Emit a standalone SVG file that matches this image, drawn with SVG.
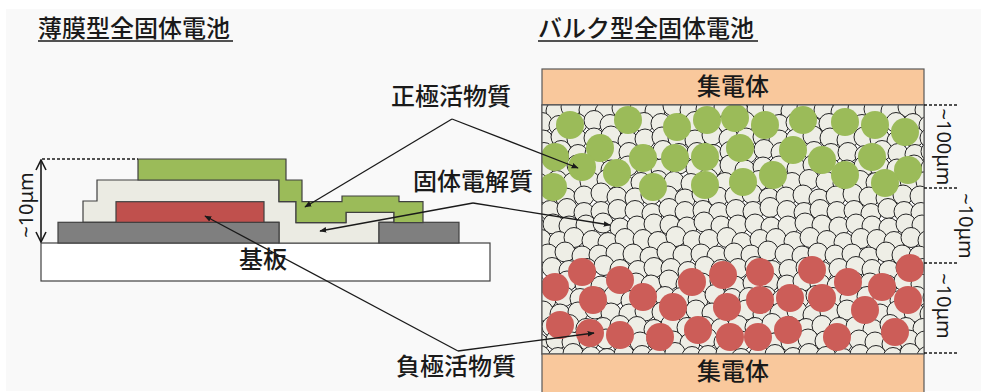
<svg xmlns="http://www.w3.org/2000/svg" xmlns:xlink="http://www.w3.org/1999/xlink" width="981" height="392" viewBox="0 0 981 392">
  <style>
    .jp { font-family: "Noto Sans CJK JP", "Noto Sans CJK SC", sans-serif; font-size: 24px; font-weight: 500; fill: #1a1a1a; }
    .dim { font-family: "Noto Sans", "DejaVu Sans", sans-serif; font-size: 20px; fill: #1a1a1a; }
    .edge { stroke: #404040; stroke-width: 1.2; }
    .sub { fill: #ffffff; }
    .elec { fill: #ebebe3; }
    .metal { fill: #7f7f7f; }
    .neg { fill: #c0504d; }
    .pos { fill: #9bbb59; }
    .cc { fill: #f9c89c; stroke: #595959; stroke-width: 1.2; }
    .p circle { fill: #eeeee6; stroke: #262626; stroke-width: 1; }
    .gp { fill: #9bbb59; }
    .rp { fill: #cc5d58; }
    .dash { stroke: #1a1a1a; stroke-width: 1.5; stroke-dasharray: 3 2; fill: none; }
    .lead { stroke: #1a1a1a; stroke-width: 1.3; fill: none; marker-end: url(#tip); }
  </style>
  <defs>
    <marker id="tip" viewBox="0 0 10 10" refX="9" refY="5" markerWidth="7" markerHeight="7" markerUnits="userSpaceOnUse" orient="auto">
      <path d="M0,1 L10,5 L0,9 Z" fill="#1a1a1a"/>
    </marker>
    <marker id="open" viewBox="0 0 12 12" refX="11" refY="6" markerWidth="12" markerHeight="12" markerUnits="userSpaceOnUse" orient="auto-start-reverse">
      <path d="M1,1 L11,6 L1,11" fill="none" stroke="#1a1a1a" stroke-width="1.6"/>
    </marker>
    <clipPath id="boxClip">
      <rect x="542" y="105" width="382" height="249"/>
    </clipPath>
    <!-- four irregular rows of electrolyte particles, reused with offsets -->
    <g id="rowA" class="p">
      <circle cx="538" cy="0" r="10"/><circle cx="556" cy="2" r="10"/><circle cx="571" cy="-2" r="10"/><circle cx="589" cy="1" r="10"/>
      <circle cx="605" cy="3" r="10"/><circle cx="622" cy="-1" r="10"/><circle cx="640" cy="0" r="10"/><circle cx="655" cy="2" r="10"/>
      <circle cx="673" cy="-3" r="10"/><circle cx="690" cy="1" r="10"/><circle cx="706" cy="0" r="10"/><circle cx="724" cy="-2" r="10"/>
      <circle cx="739" cy="3" r="10"/><circle cx="757" cy="0" r="10"/><circle cx="773" cy="-1" r="10"/><circle cx="791" cy="2" r="10"/>
      <circle cx="807" cy="-2" r="10"/><circle cx="824" cy="1" r="10"/><circle cx="841" cy="3" r="10"/><circle cx="858" cy="-1" r="10"/>
      <circle cx="874" cy="0" r="10"/><circle cx="891" cy="2" r="10"/><circle cx="908" cy="-2" r="10"/><circle cx="925" cy="1" r="10"/>
    </g>
    <g id="rowB" class="p">
      <circle cx="545" cy="-1" r="10"/><circle cx="562" cy="2" r="10"/><circle cx="580" cy="0" r="10"/><circle cx="597" cy="-3" r="10"/>
      <circle cx="613" cy="1" r="10"/><circle cx="631" cy="2" r="10"/><circle cx="647" cy="-1" r="10"/><circle cx="664" cy="0" r="10"/>
      <circle cx="681" cy="3" r="10"/><circle cx="698" cy="-2" r="10"/><circle cx="714" cy="1" r="10"/><circle cx="731" cy="0" r="10"/>
      <circle cx="748" cy="-2" r="10"/><circle cx="765" cy="2" r="10"/><circle cx="782" cy="1" r="10"/><circle cx="799" cy="-1" r="10"/>
      <circle cx="815" cy="3" r="10"/><circle cx="832" cy="0" r="10"/><circle cx="849" cy="-2" r="10"/><circle cx="865" cy="1" r="10"/>
      <circle cx="882" cy="2" r="10"/><circle cx="899" cy="-1" r="10"/><circle cx="916" cy="0" r="10"/><circle cx="932" cy="2" r="10"/>
    </g>
    <g id="rowC" class="p">
      <circle cx="541" cy="2" r="10"/><circle cx="559" cy="-1" r="10"/><circle cx="575" cy="1" r="10"/><circle cx="592" cy="0" r="10"/>
      <circle cx="609" cy="-2" r="10"/><circle cx="626" cy="3" r="10"/><circle cx="643" cy="1" r="10"/><circle cx="660" cy="-1" r="10"/>
      <circle cx="676" cy="0" r="10"/><circle cx="693" cy="2" r="10"/><circle cx="710" cy="-3" r="10"/><circle cx="727" cy="1" r="10"/>
      <circle cx="744" cy="0" r="10"/><circle cx="761" cy="-1" r="10"/><circle cx="777" cy="2" r="10"/><circle cx="794" cy="1" r="10"/>
      <circle cx="811" cy="-2" r="10"/><circle cx="828" cy="0" r="10"/><circle cx="845" cy="2" r="10"/><circle cx="862" cy="-1" r="10"/>
      <circle cx="878" cy="1" r="10"/><circle cx="895" cy="3" r="10"/><circle cx="912" cy="-1" r="10"/><circle cx="928" cy="0" r="10"/>
    </g>
    <g id="rowD" class="p">
      <circle cx="549" cy="0" r="10"/><circle cx="566" cy="-2" r="10"/><circle cx="583" cy="2" r="10"/><circle cx="600" cy="1" r="10"/>
      <circle cx="617" cy="-1" r="10"/><circle cx="634" cy="0" r="10"/><circle cx="651" cy="3" r="10"/><circle cx="668" cy="-2" r="10"/>
      <circle cx="684" cy="1" r="10"/><circle cx="702" cy="0" r="10"/><circle cx="718" cy="2" r="10"/><circle cx="735" cy="-1" r="10"/>
      <circle cx="752" cy="1" r="10"/><circle cx="769" cy="-3" r="10"/><circle cx="786" cy="0" r="10"/><circle cx="803" cy="2" r="10"/>
      <circle cx="819" cy="-1" r="10"/><circle cx="836" cy="1" r="10"/><circle cx="853" cy="0" r="10"/><circle cx="870" cy="3" r="10"/>
      <circle cx="887" cy="-2" r="10"/><circle cx="903" cy="1" r="10"/><circle cx="920" cy="2" r="10"/><circle cx="936" cy="-1" r="10"/>
    </g>
  </defs>

  <!-- page -->
  <rect x="0" y="0" width="981" height="392" fill="#ffffff"/>
  <rect x="6" y="9" width="975" height="382" fill="#f9f9f9"/>

  <!-- ===== thin-film cell ===== -->
  <g id="title-thin">
    <text class="jp" x="38" y="37">薄膜型全固体電池</text>
    <line x1="38" y1="41" x2="233" y2="41" stroke="#1a1a1a" stroke-width="1.3"/>
  </g>
  <g id="substrate">
    <rect class="sub edge" x="41" y="243" width="449" height="38"/>
    <text class="jp" x="263" y="268" text-anchor="middle">基板</text>
  </g>
  <g id="electrolyte-film">
    <polygon class="elec edge" points="83,222.3 83,201 97,201 97,180 279,180 279,201.7 296,201.7 296,222.7 346,222.7 346,212.3 394,212.3 394,222.3 379,222.3 379,243 279,243 279,222.3"/>
  </g>
  <g id="current-collectors-film">
    <rect class="metal edge" x="58" y="222.3" width="221" height="20.7"/>
    <rect class="metal edge" x="379" y="222.3" width="80" height="20.7"/>
  </g>
  <g id="anode-film">
    <rect class="neg edge" x="116" y="201.7" width="148" height="20.6"/>
  </g>
  <g id="cathode-film">
    <polygon class="pos edge" points="138,159 286,159 286,180 302,180 302,201.7 342,201.7 342,196 399,196 399,201.7 423,201.7 423,222.7 394,222.7 394,212.3 346,212.3 346,222.7 296,222.7 296,201.7 279,201.7 279,180 138,180"/>
  </g>
  <g id="thickness-film">
    <line class="dash" x1="42" y1="159" x2="138" y2="159"/>
    <line x1="41" y1="160" x2="41" y2="242" stroke="#1a1a1a" stroke-width="1.6" marker-start="url(#open)" marker-end="url(#open)"/>
    <text class="dim" transform="translate(33,205) rotate(-90)" text-anchor="middle">~10μm</text>
  </g>

  <!-- ===== bulk cell ===== -->
  <g id="title-bulk">
    <text class="jp" x="538" y="37">バルク型全固体電池</text>
    <line x1="538" y1="41" x2="758" y2="41" stroke="#1a1a1a" stroke-width="1.3"/>
  </g>
  <g id="collector-top">
    <rect class="cc" x="542" y="69" width="382" height="36"/>
    <text class="jp" x="733" y="95" text-anchor="middle">集電体</text>
  </g>
  <g id="composite">
    <rect x="542" y="105" width="382" height="249" fill="#ffffff" stroke="#595959" stroke-width="1.2"/>
    <g clip-path="url(#boxClip)">
      <g id="electrolyte-particles">
        <use xlink:href="#rowA" x="0" y="109"/>
        <use xlink:href="#rowB" x="-3" y="123.5"/>
        <use xlink:href="#rowC" x="2" y="138"/>
        <use xlink:href="#rowD" x="-5" y="152.5"/>
        <use xlink:href="#rowA" x="6" y="167"/>
        <use xlink:href="#rowC" x="-2" y="181.5"/>
        <use xlink:href="#rowB" x="4" y="196"/>
        <use xlink:href="#rowD" x="1" y="210.5"/>
        <use xlink:href="#rowC" x="-6" y="225"/>
        <use xlink:href="#rowA" x="3" y="239.5"/>
        <use xlink:href="#rowD" x="-1" y="254"/>
        <use xlink:href="#rowB" x="7" y="268.5"/>
        <use xlink:href="#rowA" x="-4" y="283"/>
        <use xlink:href="#rowC" x="5" y="297.5"/>
        <use xlink:href="#rowB" x="-2" y="312"/>
        <use xlink:href="#rowD" x="3" y="326.5"/>
        <use xlink:href="#rowC" x="-3" y="341"/>
        <use xlink:href="#rowA" x="2" y="355.5"/>
      </g>
      <!-- cathode active particles -->
      <g class="gp">
        <circle cx="570" cy="125" r="14"/><circle cx="628" cy="120" r="14"/><circle cx="677" cy="127" r="14"/><circle cx="707" cy="120" r="14"/>
        <circle cx="735" cy="118" r="14"/><circle cx="765" cy="125" r="14"/><circle cx="803" cy="120" r="14"/><circle cx="845" cy="122" r="14"/>
        <circle cx="875" cy="125" r="14"/><circle cx="905" cy="132" r="14"/><circle cx="600" cy="148" r="14"/><circle cx="555" cy="157" r="14"/>
        <circle cx="582" cy="167" r="14"/><circle cx="617" cy="173" r="14"/><circle cx="643" cy="158" r="14"/><circle cx="675" cy="158" r="14"/>
        <circle cx="705" cy="157" r="14"/><circle cx="740" cy="148" r="14"/><circle cx="793" cy="150" r="14"/><circle cx="822" cy="160" r="14"/>
        <circle cx="872" cy="157" r="14"/><circle cx="908" cy="170" r="14"/><circle cx="553" cy="187" r="14"/><circle cx="653" cy="187" r="14"/>
        <circle cx="705" cy="185" r="14"/><circle cx="743" cy="182" r="14"/><circle cx="773" cy="175" r="14"/><circle cx="845" cy="175" r="14"/>
        <circle cx="885" cy="183" r="14"/>
      </g>
      <!-- anode active particles -->
      <g class="rp">
        <circle cx="582" cy="272" r="14"/><circle cx="555" cy="287" r="14"/><circle cx="620" cy="280" r="14"/><circle cx="593" cy="300" r="14"/>
        <circle cx="643" cy="297" r="14"/><circle cx="673" cy="307" r="14"/><circle cx="692" cy="282" r="14"/><circle cx="723" cy="275" r="14"/>
        <circle cx="760" cy="272" r="14"/><circle cx="727" cy="307" r="14"/><circle cx="760" cy="300" r="14"/><circle cx="790" cy="298" r="14"/>
        <circle cx="812" cy="270" r="14"/><circle cx="822" cy="298" r="14"/><circle cx="848" cy="282" r="14"/><circle cx="882" cy="287" r="14"/>
        <circle cx="910" cy="268" r="14"/><circle cx="865" cy="310" r="14"/><circle cx="908" cy="300" r="14"/><circle cx="560" cy="325" r="14"/>
        <circle cx="590" cy="333" r="14"/><circle cx="620" cy="335" r="14"/><circle cx="660" cy="337" r="14"/><circle cx="698" cy="330" r="14"/>
        <circle cx="730" cy="337" r="14"/><circle cx="758" cy="337" r="14"/><circle cx="788" cy="330" r="14"/><circle cx="837" cy="337" r="14"/>
        <circle cx="895" cy="332" r="14"/>
      </g>
    </g>
    <rect x="542" y="105" width="382" height="249" fill="none" stroke="#595959" stroke-width="1.2"/>
  </g>
  <g id="collector-bottom">
    <rect class="cc" x="542" y="354" width="382" height="42"/>
    <text class="jp" x="733" y="380" text-anchor="middle">集電体</text>
  </g>
  <g id="thickness-bulk">
    <line class="dash" x1="924" y1="105" x2="959" y2="105"/>
    <line class="dash" x1="924" y1="188" x2="959" y2="188"/>
    <line class="dash" x1="924" y1="263" x2="959" y2="263"/>
    <line class="dash" x1="924" y1="353" x2="959" y2="353"/>
    <text class="dim" transform="translate(937,147) rotate(90)" text-anchor="middle">~100μm</text>
    <text class="dim" transform="translate(959,226) rotate(90)" text-anchor="middle">~10μm</text>
    <text class="dim" transform="translate(937,306) rotate(90)" text-anchor="middle">~10μm</text>
  </g>

  <!-- ===== labels ===== -->
  <g id="label-cathode">
    <text class="jp" x="451" y="105" text-anchor="middle">正極活物質</text>
  </g>
  <g id="label-electrolyte">
    <text class="jp" x="473" y="190" text-anchor="middle">固体電解質</text>
  </g>
  <g id="label-anode">
    <text class="jp" x="456" y="375" text-anchor="middle">負極活物質</text>
  </g>

  <!-- ===== leader lines ===== -->
  <g id="connectors">
    <line class="lead" x1="452" y1="119" x2="305" y2="207"/>
    <line class="lead" x1="452" y1="119" x2="578" y2="168"/>
    <line class="lead" x1="473" y1="203" x2="320" y2="231"/>
    <line class="lead" x1="473" y1="203" x2="610" y2="225"/>
    <line class="lead" x1="458" y1="351" x2="205" y2="216"/>
    <line class="lead" x1="458" y1="351" x2="594" y2="333"/>
  </g>
</svg>
